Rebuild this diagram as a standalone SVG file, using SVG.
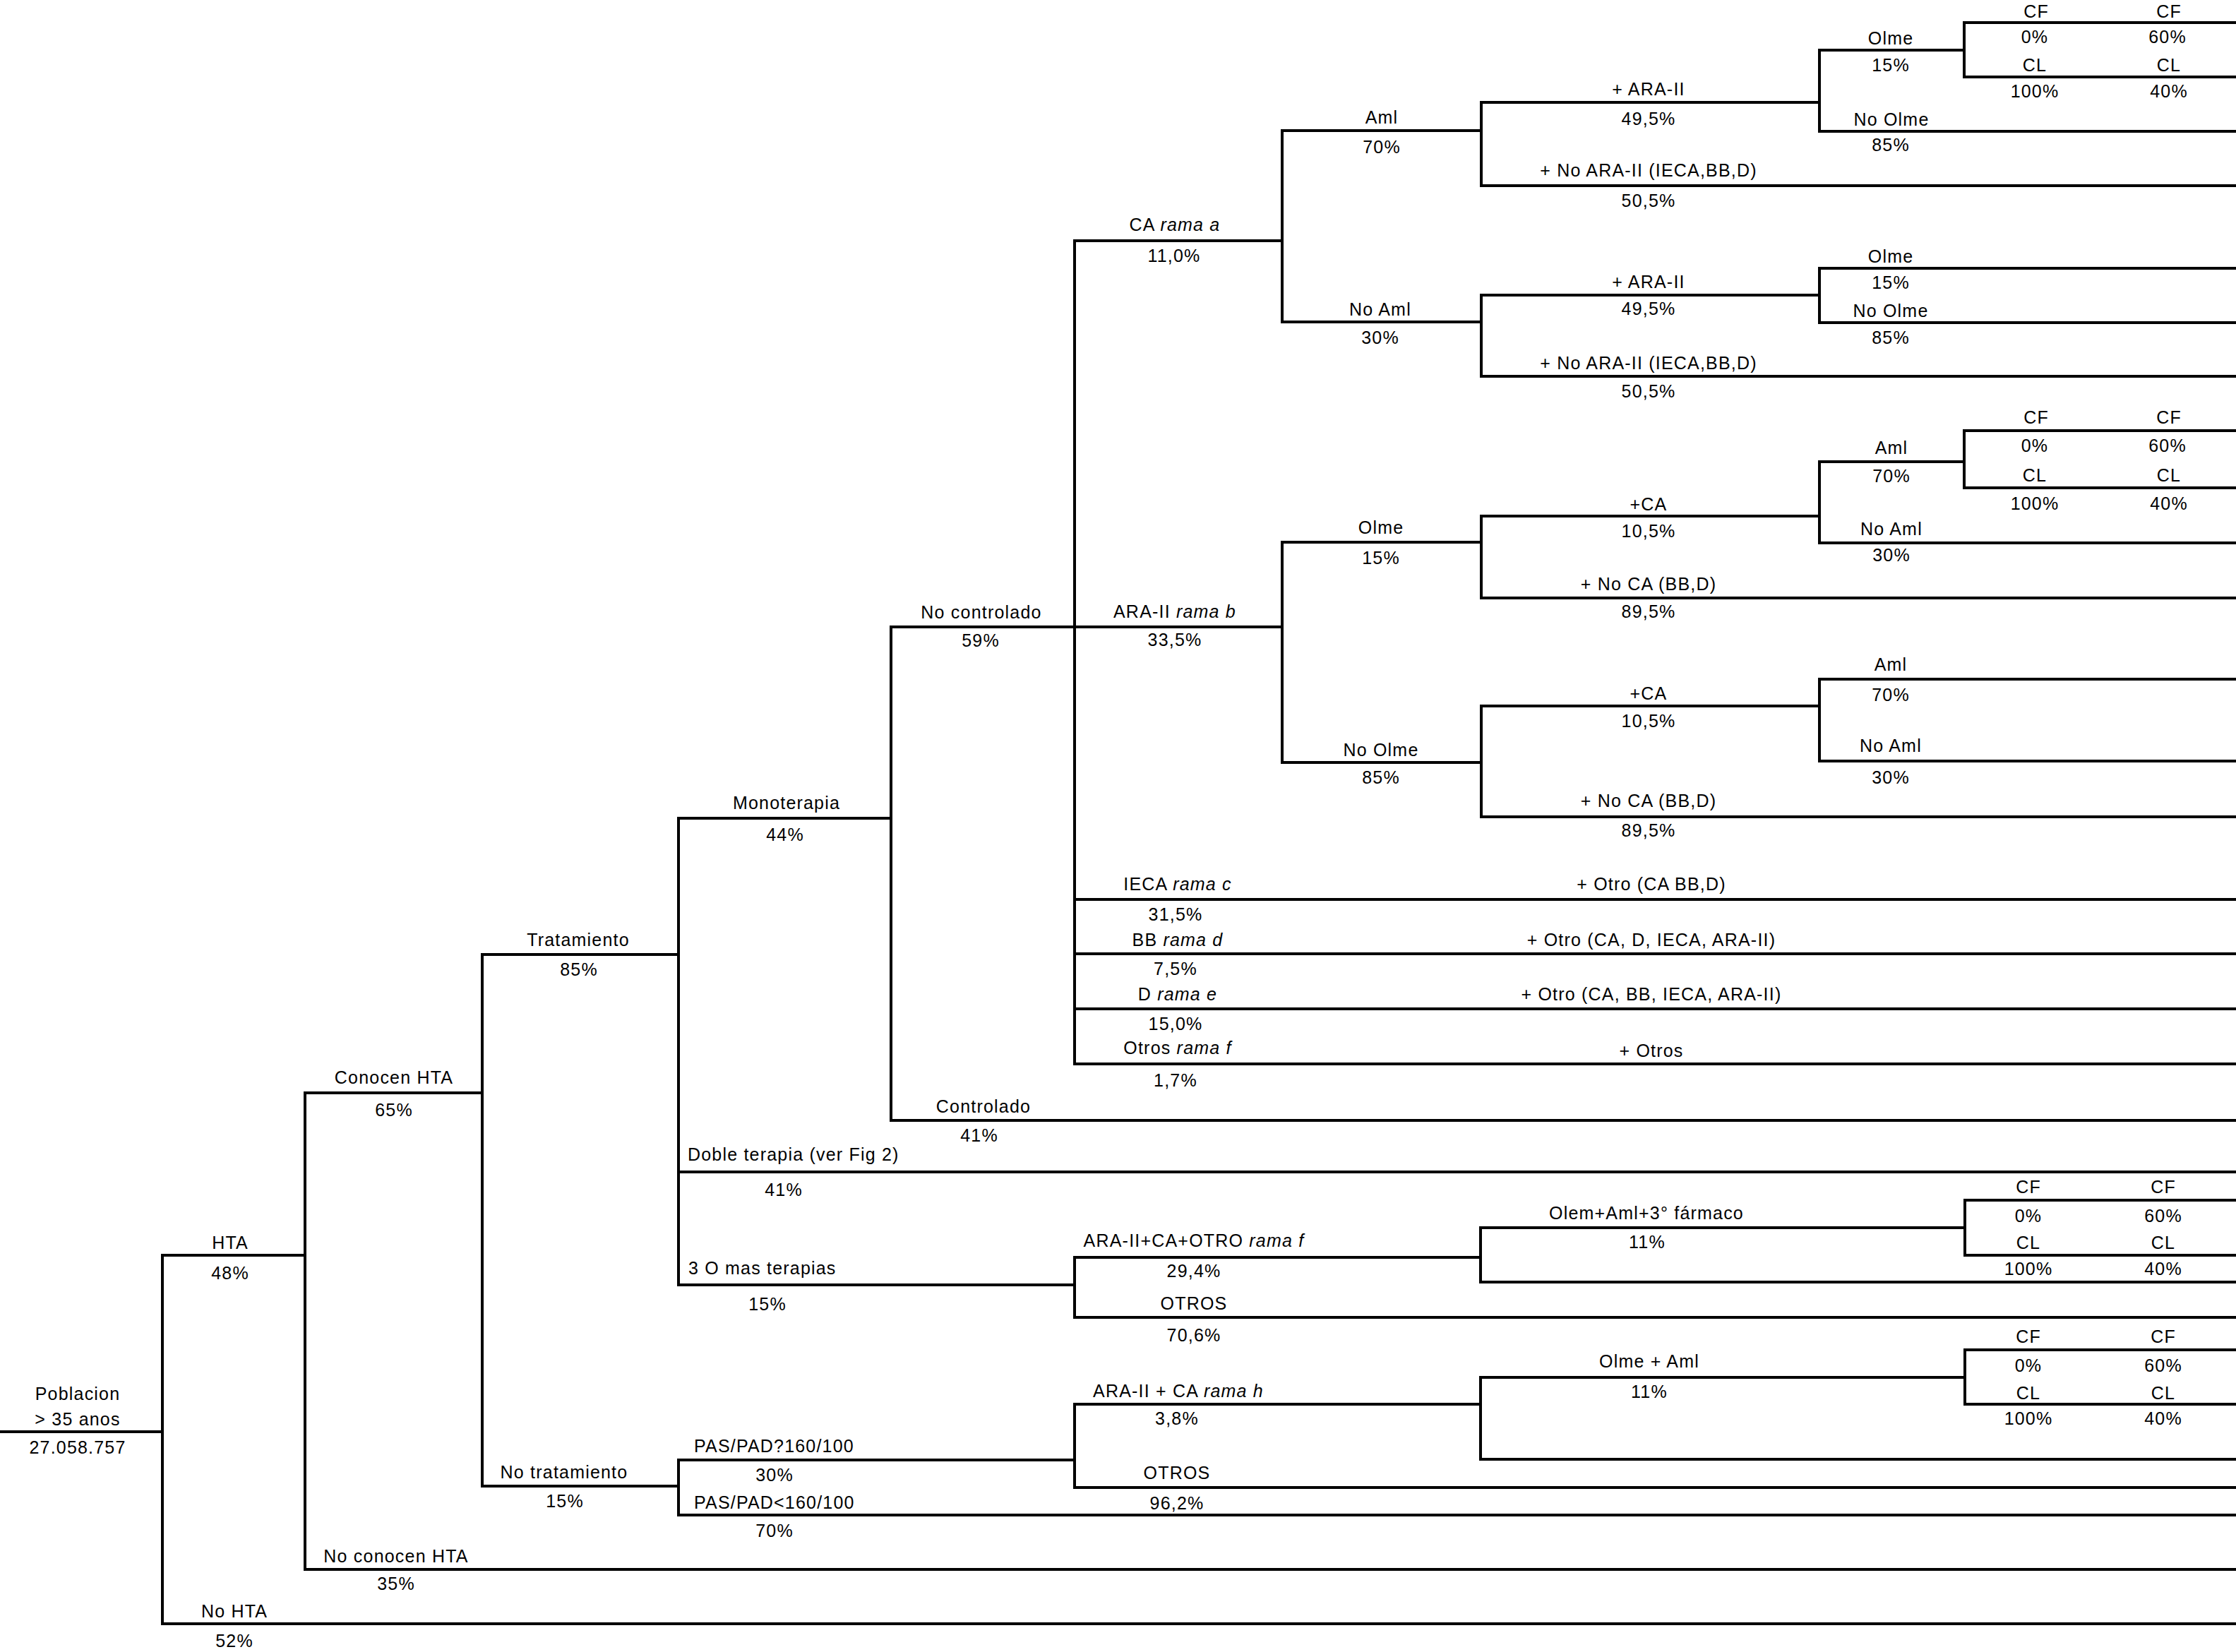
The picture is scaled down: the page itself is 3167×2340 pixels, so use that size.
<svg xmlns="http://www.w3.org/2000/svg" width="3167" height="2340" viewBox="0 0 3167 2340">
<style>
text{font-family:"Liberation Sans",Arial,sans-serif;font-size:25px;letter-spacing:1.2px;fill:#000;text-anchor:middle}
text.l{text-anchor:start}
.i{font-style:italic}
.c path{fill:none;stroke:#000;stroke-width:4;stroke-linejoin:miter;stroke-linecap:square}
</style>
<rect width="3167" height="2340" fill="#fff"/>
<g class="c" id="connectors">
<path d="M0 2028H230"/>
<path d="M432 1778H230V2300H3167"/>
<path d="M683 1548H432V2223H3167"/>
<path d="M961 1352H683V2105H961"/>
<path d="M1262 1159H961V1820H1522"/>
<path d="M961 1660H3167"/>
<path d="M1522 888H1262V1587H3167"/>
<path d="M1522 341V1507"/>
<path d="M1522 341H1816"/>
<path d="M1522 888H1816"/>
<path d="M1522 1274H3167"/>
<path d="M1522 1351H3167"/>
<path d="M1522 1429H3167"/>
<path d="M1522 1507H3167"/>
<path d="M2098 185H1816V456H2098"/>
<path d="M2577 145H2098V263H3167"/>
<path d="M2782 71H2577V186H3167"/>
<path d="M3167 32H2782V109H3167"/>
<path d="M2577 418H2098V533H3167"/>
<path d="M3167 380H2577V457H3167"/>
<path d="M2098 768H1816V1080H2098"/>
<path d="M2577 731H2098V847H3167"/>
<path d="M2782 654H2577V769H3167"/>
<path d="M3167 610H2782V691H3167"/>
<path d="M2577 1000H2098V1157H3167"/>
<path d="M3167 962H2577V1078H3167"/>
<path d="M2097 1781H1522V1866H3167"/>
<path d="M2783 1739H2097V1816H3167"/>
<path d="M3167 1700H2783V1778H3167"/>
<path d="M1522 2068H961V2146H3167"/>
<path d="M2097 1989H1522V2107H3167"/>
<path d="M2783 1951H2097V2067H3167"/>
<path d="M3167 1912H2783V1989H3167"/>
</g>
<g id="n-root"><text x="110" y="1983">Poblacion</text><text x="110" y="2019">&gt; 35 anos</text><text x="110" y="2059">27.058.757</text></g>
<g id="n-hta"><text x="326" y="1769">HTA</text><text x="326" y="1812">48%</text></g>
<g id="n-nohta"><text x="332" y="2291">No HTA</text><text x="332" y="2333">52%</text></g>
<g id="n-conocen"><text x="558" y="1535">Conocen HTA</text><text x="558" y="1581">65%</text></g>
<g id="n-noconocen"><text x="561" y="2213">No conocen HTA</text><text x="561" y="2252">35%</text></g>
<g id="n-trat"><text x="819" y="1340">Tratamiento</text><text x="820" y="1382">85%</text></g>
<g id="n-notrat"><text x="799" y="2094">No tratamiento</text><text x="800" y="2135">15%</text></g>
<g id="n-mono"><text x="1114" y="1146">Monoterapia</text><text x="1112" y="1191">44%</text></g>
<g id="n-doble"><text class="l" x="974" y="1644">Doble terapia (ver Fig 2)</text><text x="1110" y="1694">41%</text></g>
<g id="n-tres"><text class="l" x="975" y="1805">3 O mas terapias</text><text x="1087" y="1856">15%</text></g>
<g id="n-nocontrol"><text x="1390" y="876">No controlado</text><text x="1389" y="916">59%</text></g>
<g id="n-control"><text x="1393" y="1576">Controlado</text><text x="1387" y="1617">41%</text></g>
<g id="n-ca-a"><text x="1664" y="327">CA <tspan class="i">rama a</tspan></text><text x="1663" y="371">11,0%</text></g>
<g id="n-ara-b"><text x="1664" y="875">ARA-II <tspan class="i">rama b</tspan></text><text x="1664" y="915">33,5%</text></g>
<g id="n-ieca-c"><text x="1668" y="1261">IECA <tspan class="i">rama c</tspan></text><text x="1665" y="1304">31,5%</text><text x="2339" y="1261">+ Otro (CA BB,D)</text></g>
<g id="n-bb-d"><text x="1668" y="1340">BB <tspan class="i">rama d</tspan></text><text x="1665" y="1381">7,5%</text><text x="2339" y="1340">+ Otro (CA, D, IECA, ARA-II)</text></g>
<g id="n-d-e"><text x="1668" y="1417">D <tspan class="i">rama e</tspan></text><text x="1665" y="1459">15,0%</text><text x="2339" y="1417">+ Otro (CA, BB, IECA, ARA-II)</text></g>
<g id="n-otros-f"><text x="1668" y="1493">Otros <tspan class="i">rama f</tspan></text><text x="1665" y="1539">1,7%</text><text x="2339" y="1497">+ Otros</text></g>
<g id="n-a-aml"><text x="1957" y="175">Aml</text><text x="1957" y="217">70%</text></g>
<g id="n-a-noaml"><text x="1955" y="447">No Aml</text><text x="1955" y="487">30%</text></g>
<g id="n-a-aml-ara"><text x="2335" y="135">+ ARA-II</text><text x="2335" y="177">49,5%</text></g>
<g id="n-a-aml-noara"><text x="2335" y="250">+ No ARA-II (IECA,BB,D)</text><text x="2335" y="293">50,5%</text></g>
<g id="n-a-noaml-ara"><text x="2335" y="408">+ ARA-II</text><text x="2335" y="446">49,5%</text></g>
<g id="n-a-noaml-noara"><text x="2335" y="523">+ No ARA-II (IECA,BB,D)</text><text x="2335" y="563">50,5%</text></g>
<g id="n-a-olme1"><text x="2678" y="63">Olme</text><text x="2678" y="101">15%</text></g>
<g id="n-a-noolme1"><text x="2679" y="178">No Olme</text><text x="2678" y="214">85%</text></g>
<g id="n-cf1"><text x="2884" y="25">CF</text><text x="2882" y="61">0%</text><text x="2882" y="101">CL</text><text x="2882" y="138">100%</text><text x="3072" y="25">CF</text><text x="3070" y="61">60%</text><text x="3072" y="101">CL</text><text x="3072" y="138">40%</text></g>
<g id="n-a-olme2"><text x="2678" y="372">Olme</text><text x="2678" y="409">15%</text></g>
<g id="n-a-noolme2"><text x="2678" y="449">No Olme</text><text x="2678" y="487">85%</text></g>
<g id="n-b-olme"><text x="1956" y="756">Olme</text><text x="1956" y="799">15%</text></g>
<g id="n-b-noolme"><text x="1956" y="1071">No Olme</text><text x="1956" y="1110">85%</text></g>
<g id="n-b-olme-ca"><text x="2335" y="723">+CA</text><text x="2335" y="761">10,5%</text></g>
<g id="n-b-olme-noca"><text x="2335" y="836">+ No CA (BB,D)</text><text x="2335" y="875">89,5%</text></g>
<g id="n-b-noolme-ca"><text x="2335" y="991">+CA</text><text x="2335" y="1030">10,5%</text></g>
<g id="n-b-noolme-noca"><text x="2335" y="1143">+ No CA (BB,D)</text><text x="2335" y="1185">89,5%</text></g>
<g id="n-b-aml1"><text x="2679" y="643">Aml</text><text x="2679" y="683">70%</text></g>
<g id="n-b-noaml1"><text x="2679" y="758">No Aml</text><text x="2679" y="795">30%</text></g>
<g id="n-cf2"><text x="2884" y="600">CF</text><text x="2882" y="640">0%</text><text x="2882" y="682">CL</text><text x="2882" y="722">100%</text><text x="3072" y="600">CF</text><text x="3070" y="640">60%</text><text x="3072" y="682">CL</text><text x="3072" y="722">40%</text></g>
<g id="n-b-aml2"><text x="2678" y="950">Aml</text><text x="2678" y="993">70%</text></g>
<g id="n-b-noaml2"><text x="2678" y="1065">No Aml</text><text x="2678" y="1110">30%</text></g>
<g id="n-arcaotro"><text x="1691" y="1766">ARA-II+CA+OTRO <tspan class="i">rama f</tspan></text><text x="1691" y="1809">29,4%</text></g>
<g id="n-otros3"><text x="1691" y="1855">OTROS</text><text x="1691" y="1900">70,6%</text></g>
<g id="n-olem3"><text x="2332" y="1727">Olem+Aml+3° fármaco</text><text x="2333" y="1768">11%</text></g>
<g id="n-cf3"><text x="2873" y="1690">CF</text><text x="2873" y="1731">0%</text><text x="2873" y="1769">CL</text><text x="2873" y="1806">100%</text><text x="3064" y="1690">CF</text><text x="3064" y="1731">60%</text><text x="3064" y="1769">CL</text><text x="3064" y="1806">40%</text></g>
<g id="n-pas1"><text class="l" x="983" y="2057">PAS/PAD?160/100</text><text x="1097" y="2098">30%</text></g>
<g id="n-pas2"><text class="l" x="983" y="2137">PAS/PAD&lt;160/100</text><text x="1097" y="2177">70%</text></g>
<g id="n-arca-h"><text x="1669" y="1979">ARA-II + CA <tspan class="i">rama h</tspan></text><text x="1667" y="2018">3,8%</text></g>
<g id="n-otros-h"><text x="1667" y="2095">OTROS</text><text x="1667" y="2138">96,2%</text></g>
<g id="n-olmeaml"><text x="2336" y="1937">Olme + Aml</text><text x="2336" y="1980">11%</text></g>
<g id="n-cf4"><text x="2873" y="1902">CF</text><text x="2873" y="1943">0%</text><text x="2873" y="1982">CL</text><text x="2873" y="2018">100%</text><text x="3064" y="1902">CF</text><text x="3064" y="1943">60%</text><text x="3064" y="1982">CL</text><text x="3064" y="2018">40%</text></g>
</svg>
